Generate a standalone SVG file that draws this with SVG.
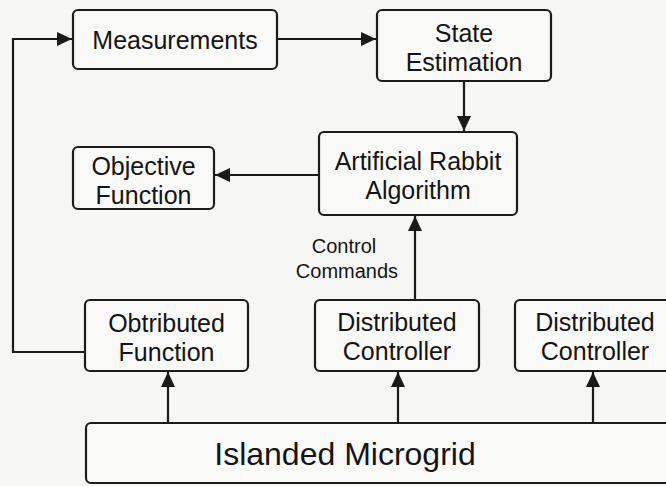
<svg xmlns="http://www.w3.org/2000/svg" width="666" height="486" viewBox="0 0 666 486">
<defs>
<style>
.box{fill:#f9f9f8;stroke:#1c1c1c;stroke-width:2.2}
.t{font-family:"Liberation Sans",Arial,Helvetica,sans-serif;font-size:25px;fill:#141414;text-anchor:middle}
.big{font-size:32px}
.lbl{font-size:20px}
.c{fill:none;stroke:#1a1a1a;stroke-width:2.2}
</style>
<marker id="ah" markerUnits="userSpaceOnUse" markerWidth="16" markerHeight="14" refX="15" refY="7" orient="auto">
<path d="M0,0 L15,7 L0,14 z" fill="#1a1a1a"/>
</marker>
</defs>
<rect width="666" height="486" fill="#f6f6f4"/>
<g id="connectors">
<line class="c" x1="277" y1="39" x2="376" y2="39" marker-end="url(#ah)"/>
<line class="c" x1="464" y1="81" x2="464" y2="131" marker-end="url(#ah)"/>
<line class="c" x1="319" y1="175" x2="215" y2="175" marker-end="url(#ah)"/>
<polyline class="c" points="85,352 13,352 13,39 72,39" marker-end="url(#ah)"/>
<line class="c" x1="415" y1="300" x2="415" y2="216" marker-end="url(#ah)"/>
<line class="c" x1="168" y1="423" x2="168" y2="372" marker-end="url(#ah)"/>
<line class="c" x1="398" y1="423" x2="398" y2="372" marker-end="url(#ah)"/>
<line class="c" x1="593" y1="423" x2="593" y2="372" marker-end="url(#ah)"/>
<text class="t lbl" x="344" y="253">Control</text>
<text class="t lbl" x="347" y="278">Commands</text>
</g>
<g id="measurements">
<rect class="box" x="73" y="10" width="204" height="59" rx="5"/>
<text class="t" x="175" y="49">Measurements</text>
</g>
<g id="state-estimation">
<rect class="box" x="377" y="10" width="174" height="71" rx="5"/>
<text class="t" x="464" y="42">State</text>
<text class="t" x="464" y="71">Estimation</text>
</g>
<g id="artificial-rabbit">
<rect class="box" x="319" y="132" width="198" height="83" rx="5"/>
<text class="t" x="418" y="170">Artificial Rabbit</text>
<text class="t" x="418" y="199">Algorithm</text>
</g>
<g id="objective-function">
<rect class="box" x="73" y="147" width="141" height="62" rx="5"/>
<text class="t" x="143.5" y="175">Objective</text>
<text class="t" x="143.5" y="204">Function</text>
</g>
<g id="obtributed-function">
<rect class="box" x="85" y="300" width="163" height="71" rx="5"/>
<text class="t" x="166.5" y="332">Obtributed</text>
<text class="t" x="166.5" y="361">Function</text>
</g>
<g id="distributed-controller-1">
<rect class="box" x="315" y="300" width="164" height="71" rx="5"/>
<text class="t" x="397" y="331">Distributed</text>
<text class="t" x="397" y="360">Controller</text>
</g>
<g id="distributed-controller-2">
<rect class="box" x="515" y="300" width="164" height="71" rx="5"/>
<text class="t" x="595" y="331">Distributed</text>
<text class="t" x="595" y="360">Controller</text>
</g>
<g id="islanded-microgrid">
<rect class="box" x="86" y="423" width="600" height="60" rx="5"/>
<text class="t big" x="345" y="465">Islanded Microgrid</text>
</g>
</svg>
